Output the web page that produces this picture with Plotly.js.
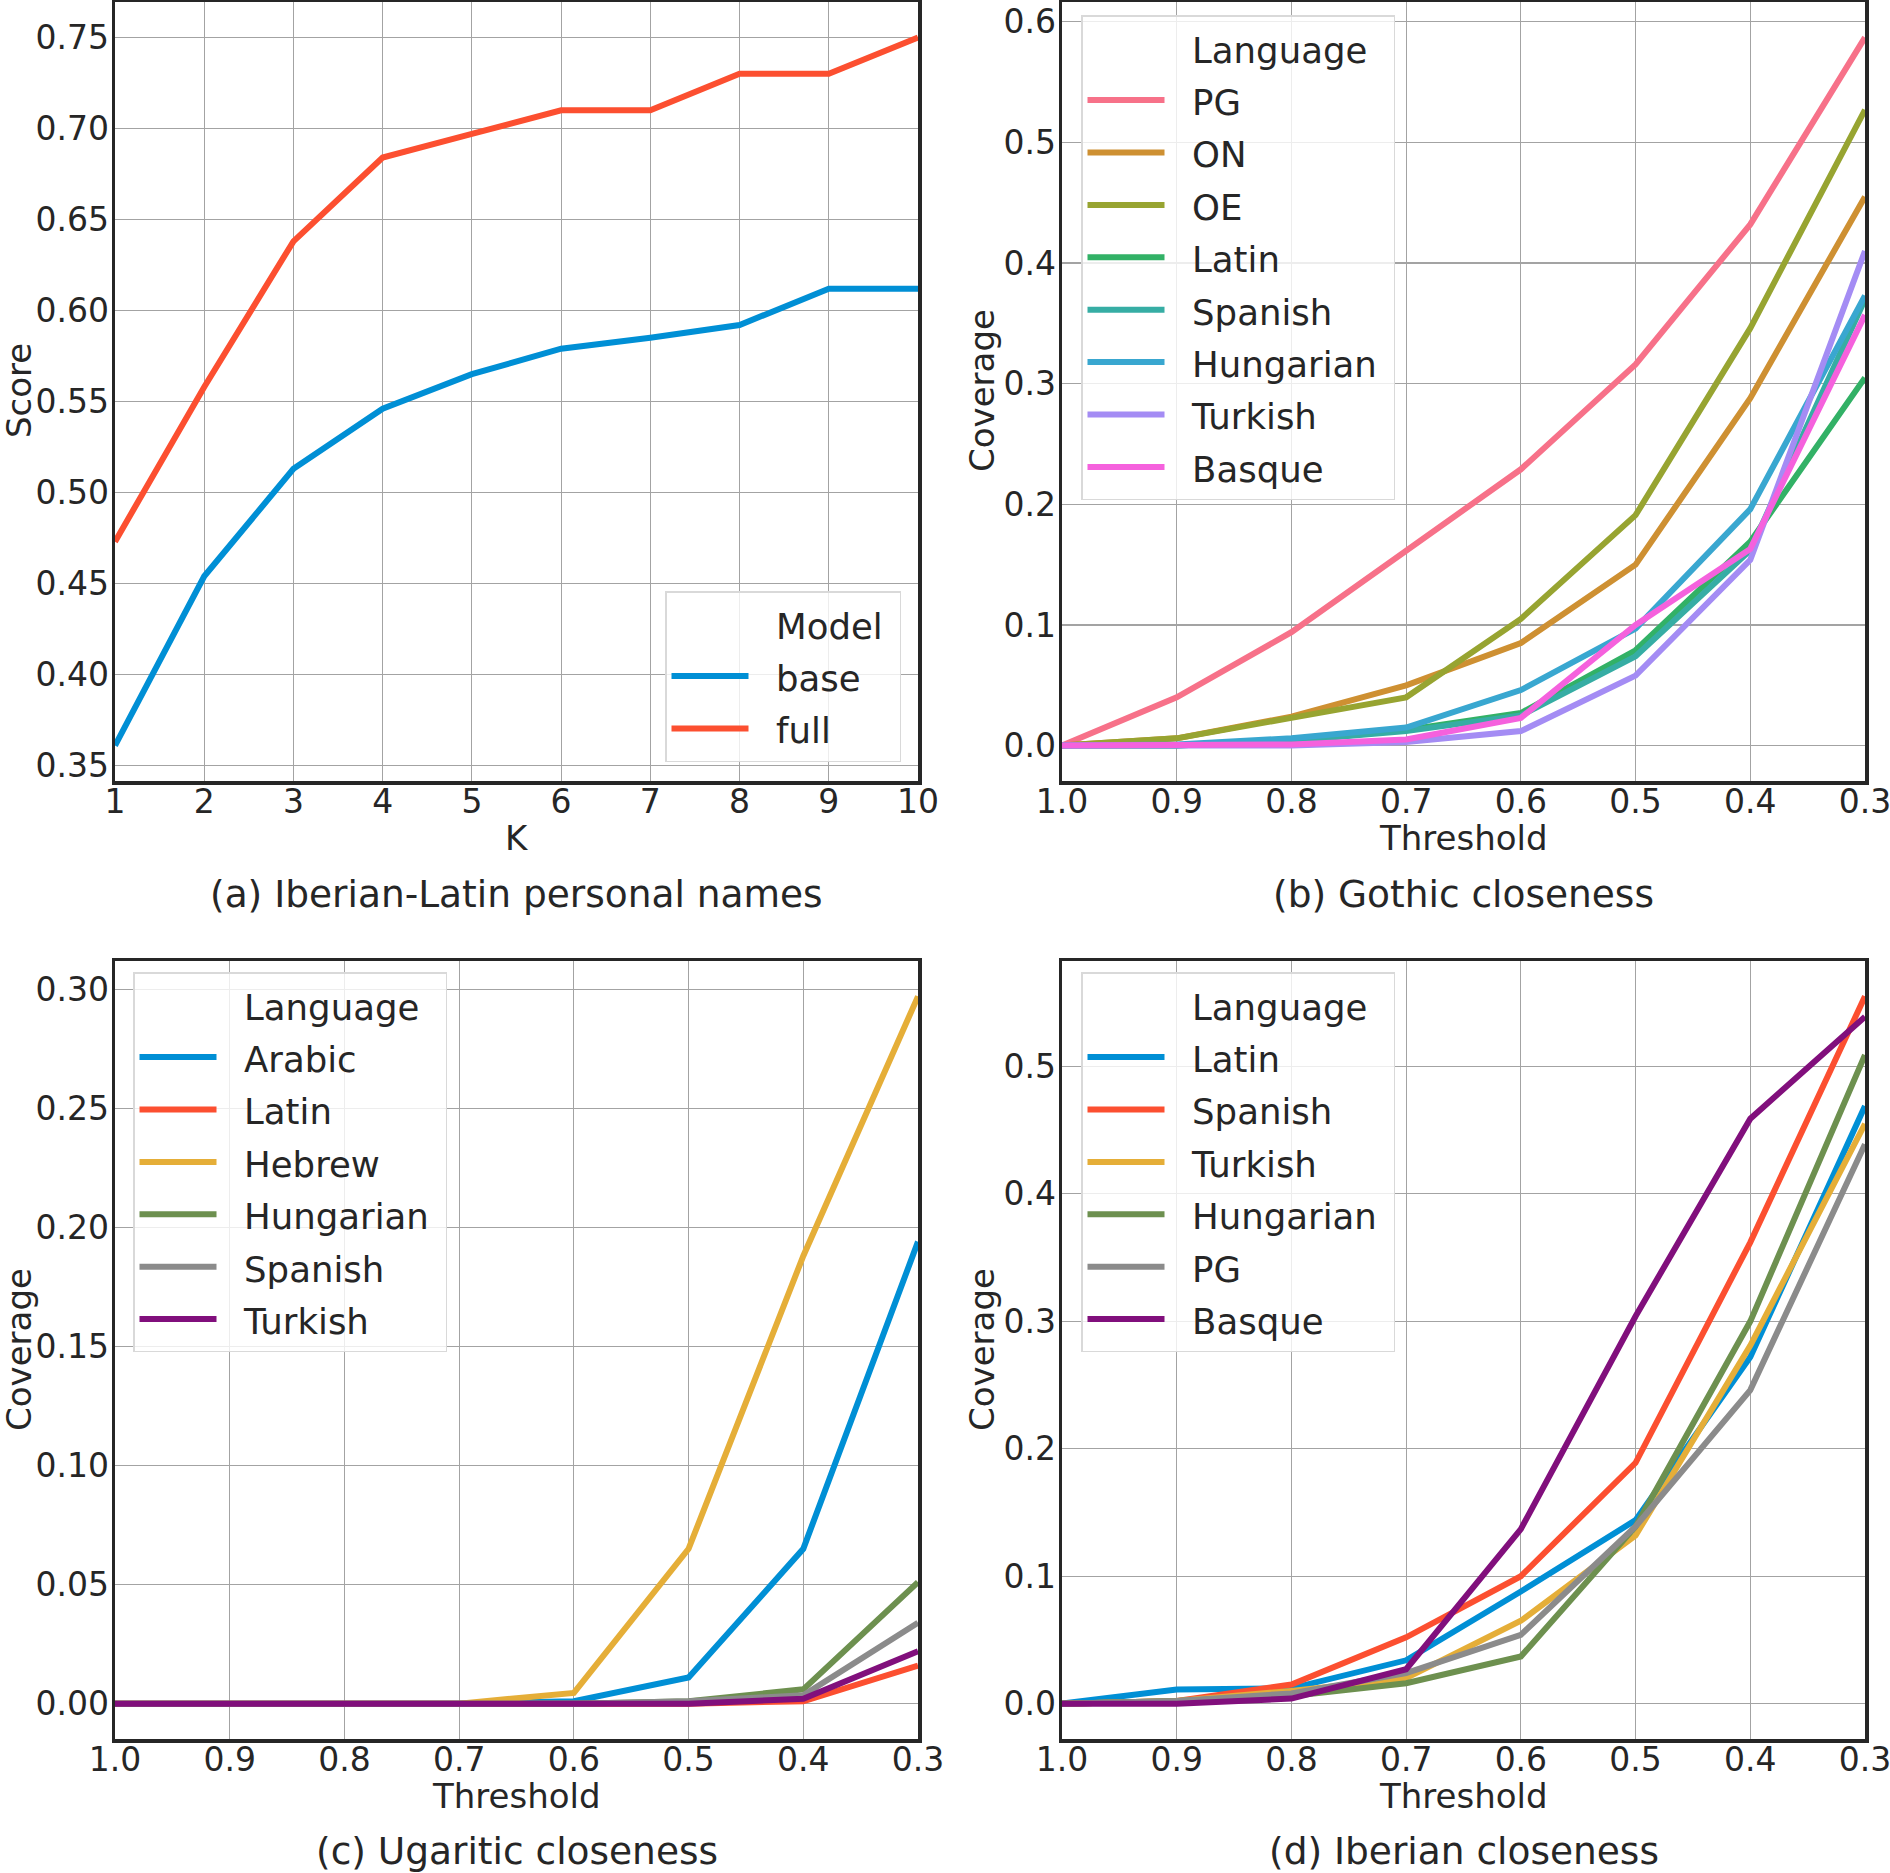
<!DOCTYPE html>
<html>
<head>
<meta charset="utf-8">
<script src="https://cdn.plot.ly/plotly-3.0.1.min.js"></script>
<style>html,body{margin:0;padding:0;background:#fff;}#chart{width:1890px;height:1873px;}</style>
</head>
<body>
<div id="chart"></div>
<script>
// ---------- data ----------
const K = [1, 2, 3, 4, 5, 6, 7, 8, 9, 10];
const scoreBase = [0.361, 0.454, 0.513, 0.546, 0.565, 0.579, 0.585, 0.592, 0.612, 0.612];
const scoreFull = [0.473, 0.558, 0.638, 0.684, 0.697, 0.710, 0.710, 0.730, 0.730, 0.750];
const modelNames = ['base', 'full'];

const thresholds = [1.0, 0.9, 0.8, 0.7, 0.6, 0.5, 0.4, 0.3];
const thresholdTicks = ['1.0', '0.9', '0.8', '0.7', '0.6', '0.5', '0.4', '0.3'];

// (b) Gothic closeness
const gothicLangs = ['PG', 'ON', 'OE', 'Latin', 'Spanish', 'Hungarian', 'Turkish', 'Basque'];
const gothicPG        = [0, 0.040, 0.094, 0.162, 0.229, 0.316, 0.432, 0.587];
const gothicON        = [0, 0.006, 0.024, 0.050, 0.085, 0.150, 0.288, 0.455];
const gothicOE        = [0, 0.006, 0.023, 0.040, 0.105, 0.191, 0.346, 0.527];
const gothicLatin     = [0, 0.000, 0.004, 0.013, 0.027, 0.079, 0.169, 0.305];
const gothicSpanish   = [0, 0.000, 0.004, 0.012, 0.025, 0.074, 0.162, 0.370];
const gothicHungarian = [0, 0.001, 0.006, 0.015, 0.046, 0.097, 0.196, 0.373];
const gothicTurkish   = [0, 0.000, 0.000, 0.003, 0.012, 0.058, 0.154, 0.410];
const gothicBasque    = [0, 0.000, 0.001, 0.005, 0.023, 0.100, 0.163, 0.357];

// (c) Ugaritic closeness
const ugariticLangs = ['Arabic', 'Latin', 'Hebrew', 'Hungarian', 'Spanish', 'Turkish'];
const ugaritArabic    = [0, 0, 0, 0, 0.001, 0.011, 0.065, 0.194];
const ugaritLatin     = [0, 0, 0, 0, 0.000, 0.000, 0.001, 0.016];
const ugaritHebrew    = [0, 0, 0, 0, 0.0045, 0.065, 0.188, 0.297];
const ugaritHungarian = [0, 0, 0, 0, 0.000, 0.001, 0.006, 0.051];
const ugaritSpanish   = [0, 0, 0, 0, 0.000, 0.001, 0.0035, 0.034];
const ugaritTurkish   = [0, 0, 0, 0, 0.000, 0.000, 0.002, 0.022];

// (d) Iberian closeness
const iberianLangs = ['Latin', 'Spanish', 'Turkish', 'Hungarian', 'PG', 'Basque'];
const iberLatin     = [0, 0.011, 0.012, 0.034, 0.088, 0.144, 0.272, 0.469];
const iberSpanish   = [0, 0.002, 0.015, 0.052, 0.100, 0.189, 0.362, 0.555];
const iberTurkish   = [0, 0.002, 0.010, 0.020, 0.065, 0.132, 0.281, 0.455];
const iberHungarian = [0, 0.002, 0.006, 0.016, 0.037, 0.139, 0.300, 0.509];
const iberPG        = [0, 0.002, 0.008, 0.024, 0.054, 0.139, 0.246, 0.439];
const iberBasque    = [0, 0.000, 0.004, 0.027, 0.137, 0.304, 0.459, 0.539];

// ---------- styling ----------
const W = 1890, H = 1873;
const FONT = 'DejaVu Sans';
const TXT = '#262626';
const c538 = ['#008fd5', '#fc4f30', '#e5ae38', '#6d904f', '#8b8b8b', '#810f7c'];
const husl8 = ['#f77189', '#ce9032', '#97a431', '#32b166', '#36ada4', '#39a7d0', '#a48cf4', '#f561dd'];
const LW = 6;

function label(s) { return '<span style="font-size:35.5px">\u00a0\u00a0' + s + '\u00a0</span>'; }

const traces = [];
function titleEntry(text, xa, ya, leg) {
  traces.push({type: 'scatter', mode: 'lines', x: [null], y: [null], name: label(text),
    line: {color: 'rgba(0,0,0,0)', width: LW}, xaxis: xa, yaxis: ya, legend: leg, hoverinfo: 'skip'});
}
function series(xs, ys, name, color, xa, ya, leg) {
  traces.push({type: 'scatter', mode: 'lines', x: xs, y: ys, name: label(name),
    line: {color: color, width: LW}, xaxis: xa, yaxis: ya, legend: leg, hoverinfo: 'skip'});
}

// (a)
titleEntry('Model', 'x', 'y', 'legend');
series(K, scoreBase, modelNames[0], c538[0], 'x', 'y', 'legend');
series(K, scoreFull, modelNames[1], c538[1], 'x', 'y', 'legend');
// (b)
const gothicVals = [gothicPG, gothicON, gothicOE, gothicLatin, gothicSpanish, gothicHungarian, gothicTurkish, gothicBasque];
titleEntry('Language', 'x2', 'y2', 'legend2');
gothicLangs.forEach((n, i) => series(thresholds, gothicVals[i], n, husl8[i], 'x2', 'y2', 'legend2'));
// (c)
const ugaritVals = [ugaritArabic, ugaritLatin, ugaritHebrew, ugaritHungarian, ugaritSpanish, ugaritTurkish];
titleEntry('Language', 'x3', 'y3', 'legend3');
ugariticLangs.forEach((n, i) => series(thresholds, ugaritVals[i], n, c538[i], 'x3', 'y3', 'legend3'));
// (d)
const iberVals = [iberLatin, iberSpanish, iberTurkish, iberHungarian, iberPG, iberBasque];
titleEntry('Language', 'x4', 'y4', 'legend4');
iberianLangs.forEach((n, i) => series(thresholds, iberVals[i], n, c538[i], 'x4', 'y4', 'legend4'));

// ---------- layout ----------
function xd(a, b) { return [a / W, b / W]; }
function yd(top, bottom) { return [1 - bottom / H, 1 - top / H]; }
function ax(extra) {
  return Object.assign({
    showline: true, mirror: true, linecolor: TXT, linewidth: 3.5,
    showgrid: true, gridcolor: '#a3a3a3', gridwidth: 1.2, zeroline: false,
    ticks: '', tickfont: {family: FONT, size: 33, color: TXT},
    ticklabeloverflow: 'allow', automargin: false, fixedrange: true
  }, extra);
}
function pad(lo, hi) { const m = (hi - lo) * 0.05; return [lo - m, hi + m]; }
function maxOf(arrs) { return Math.max.apply(null, arrs.map(a => Math.max.apply(null, a))); }

const leftX = [115, 918], rightX = [1062, 1865];
const topY = [2, 781], botY = [961, 1739];
const XSTAND = -11, YSTAND = -4;

const legendBase = {
  bgcolor: 'rgba(255,255,255,0.8)', bordercolor: '#d9d9d9', borderwidth: 1.5,
  font: {family: FONT, size: 38, color: TXT}, itemwidth: 77, traceorder: 'normal',
  itemclick: false, itemdoubleclick: false
};

function ann(text, px, py, size, angle) {
  return {text: text, x: px / W, y: 1 - py / H, xref: 'paper', yref: 'paper',
    xanchor: 'center', yanchor: 'middle', showarrow: false, textangle: angle || 0,
    font: {family: FONT, size: size, color: TXT}};
}

const layout = {
  width: W, height: H, margin: {l: 0, r: 0, t: 0, b: 0},
  paper_bgcolor: '#ffffff', plot_bgcolor: '#ffffff', showlegend: true,
  font: {family: FONT, color: TXT},
  xaxis: ax({domain: xd(...leftX), anchor: 'y', range: [1, 10], dtick: 1, tick0: 1, ticklabelstandoff: XSTAND}),
  yaxis: ax({domain: yd(...topY), anchor: 'x', range: pad(Math.min(...scoreBase), Math.max(...scoreFull)), dtick: 0.05, tick0: 0, tickformat: '.2f', ticklabelstandoff: YSTAND}),
  xaxis2: ax({domain: xd(...rightX), anchor: 'y2', range: [1.0, 0.3], tickmode: 'array', tickvals: thresholds, ticktext: thresholdTicks, ticklabelstandoff: XSTAND}),
  yaxis2: ax({domain: yd(...topY), anchor: 'x2', range: pad(0, maxOf(gothicVals)), dtick: 0.1, tick0: 0, tickformat: '.1f', ticklabelstandoff: YSTAND}),
  xaxis3: ax({domain: xd(...leftX), anchor: 'y3', range: [1.0, 0.3], tickmode: 'array', tickvals: thresholds, ticktext: thresholdTicks, ticklabelstandoff: XSTAND}),
  yaxis3: ax({domain: yd(...botY), anchor: 'x3', range: pad(0, maxOf(ugaritVals)), dtick: 0.05, tick0: 0, tickformat: '.2f', ticklabelstandoff: YSTAND}),
  xaxis4: ax({domain: xd(...rightX), anchor: 'y4', range: [1.0, 0.3], tickmode: 'array', tickvals: thresholds, ticktext: thresholdTicks, ticklabelstandoff: XSTAND}),
  yaxis4: ax({domain: yd(...botY), anchor: 'x4', range: pad(0, maxOf(iberVals)), dtick: 0.1, tick0: 0, tickformat: '.1f', ticklabelstandoff: YSTAND}),
  legend:  Object.assign({}, legendBase, {x: 901 / W, y: 1 - 762 / H, xanchor: 'right', yanchor: 'bottom'}),
  legend2: Object.assign({}, legendBase, {x: 1081 / W, y: 1 - 15 / H, xanchor: 'left', yanchor: 'top'}),
  legend3: Object.assign({}, legendBase, {x: 133 / W, y: 1 - 972 / H, xanchor: 'left', yanchor: 'top'}),
  legend4: Object.assign({}, legendBase, {x: 1081 / W, y: 1 - 972 / H, xanchor: 'left', yanchor: 'top'}),
  annotations: [
    ann('K', 516.5, 838, 34),
    ann('Threshold', 1463.5, 838, 34),
    ann('Threshold', 516.5, 1796, 34),
    ann('Threshold', 1463.5, 1796, 34),
    ann('Score', 19, 391, 34, -90),
    ann('Coverage', 982, 391, 34, -90),
    ann('Coverage', 19, 1350, 34, -90),
    ann('Coverage', 982, 1350, 34, -90),
    ann('(a) Iberian-Latin personal names', 516.5, 894, 37.5),
    ann('(b) Gothic closeness', 1463.5, 894, 37.5),
    ann('(c) Ugaritic closeness', 516.5, 1851, 37.5),
    ann('(d) Iberian closeness', 1463.5, 1851, 37.5)
  ]
};

Plotly.newPlot('chart', traces, layout, {staticPlot: true, displayModeBar: false});
</script>
</body>
</html>
